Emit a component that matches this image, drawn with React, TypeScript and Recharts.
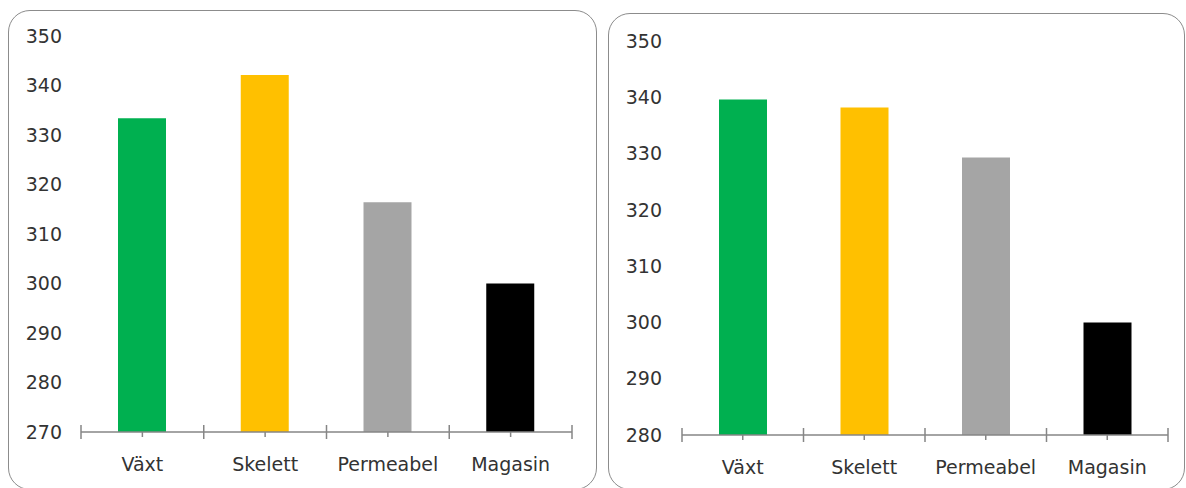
import { BarChart, Bar, Cell, XAxis, YAxis } from "recharts";

const categories = ["Växt", "Skelett", "Permeabel", "Magasin"];
const barColors = ["#00b050", "#ffc000", "#a5a5a5", "#000000"];

const leftValues = [333.4, 342.1, 316.4, 300];
const rightValues = [339.6, 338.2, 329.3, 300];

const leftTicks = [270, 280, 290, 300, 310, 320, 330, 340, 350];
const rightTicks = [280, 290, 300, 310, 320, 330, 340, 350];

const FONT = "'DejaVu Sans', Verdana, sans-serif";
const TEXT = "#333333";
const AXIS = "#868686";

function XTick(props: any) {
  const { x, y, payload, index, step, last } = props;
  const half = step / 2;
  return (
    <g>
      <line x1={x} x2={x} y1={y} y2={y + 5} stroke={AXIS} strokeWidth={1.5} />
      <line x1={x - half} x2={x - half} y1={y - 7} y2={y + 7} stroke={AXIS} strokeWidth={1.5} />
      {index === last && (
        <line x1={x + half} x2={x + half} y1={y - 7} y2={y + 7} stroke={AXIS} strokeWidth={1.5} />
      )}
      <text
        x={x}
        y={y + 32}
        dy="0.355em"
        textAnchor="middle"
        fill={TEXT}
        fontSize={19}
        fontFamily={FONT}
      >
        {payload.value}
      </text>
    </g>
  );
}

interface PanelChartProps {
  values: number[];
  ticks: number[];
  width: number;
  height: number;
  margin: { top: number; right: number; bottom: number; left: number };
  yWidth: number;
  yGap: number;
  xHeight: number;
}

function PanelChart({ values, ticks, width, height, margin, yWidth, yGap, xHeight }: PanelChartProps) {
  const data = categories.map((name, i) => ({ name, value: values[i] }));
  const plotWidth = width - margin.left - margin.right - yWidth;
  const step = plotWidth / categories.length;
  return (
    <BarChart width={width} height={height} data={data} margin={margin}>
      <XAxis
        dataKey="name"
        height={xHeight}
        interval={0}
        axisLine={{ stroke: AXIS, strokeWidth: 1.5 }}
        tickLine={false}
        tickSize={0}
        tickMargin={0}
        tick={(p: any) => <XTick {...p} step={step} last={categories.length - 1} />}
      />
      <YAxis
        type="number"
        width={yWidth}
        domain={[ticks[0], ticks[ticks.length - 1]]}
        ticks={ticks}
        interval={0}
        axisLine={false}
        tickLine={false}
        tickSize={0}
        tickMargin={yGap}
        tick={{ fill: TEXT, fontSize: 19, fontFamily: FONT }}
      />
      <Bar dataKey="value" barSize={48} isAnimationActive={false}>
        {data.map((_, i) => (
          <Cell key={`cell-${i}`} fill={barColors[i]} />
        ))}
      </Bar>
    </BarChart>
  );
}

export default function App() {
  return (
    <div
      style={{
        position: "absolute",
        left: 0,
        top: 0,
        width: 1186,
        height: 488,
        overflow: "hidden",
        background: "#ffffff",
      }}
    >
      <div
        style={{
          position: "absolute",
          left: 8,
          top: 10,
          width: 587,
          height: 478,
          border: "1.5px solid #8c8c8c",
          borderRadius: 22,
        }}
      />
      <div
        style={{
          position: "absolute",
          left: 608,
          top: 13,
          width: 575,
          height: 475,
          border: "1.5px solid #8c8c8c",
          borderRadius: 22,
        }}
      />
      <div style={{ position: "absolute", left: 0, top: 0 }}>
        <PanelChart
          values={leftValues}
          ticks={leftTicks}
          width={597}
          height={488}
          margin={{ top: 36, right: 25, bottom: 0, left: 0 }}
          yWidth={81}
          yGap={19}
          xHeight={56}
        />
      </div>
      <div style={{ position: "absolute", left: 600, top: 0 }}>
        <PanelChart
          values={rightValues}
          ticks={rightTicks}
          width={586}
          height={488}
          margin={{ top: 41, right: 18, bottom: 0, left: 0 }}
          yWidth={82}
          yGap={20}
          xHeight={53}
        />
      </div>
    </div>
  );
}
